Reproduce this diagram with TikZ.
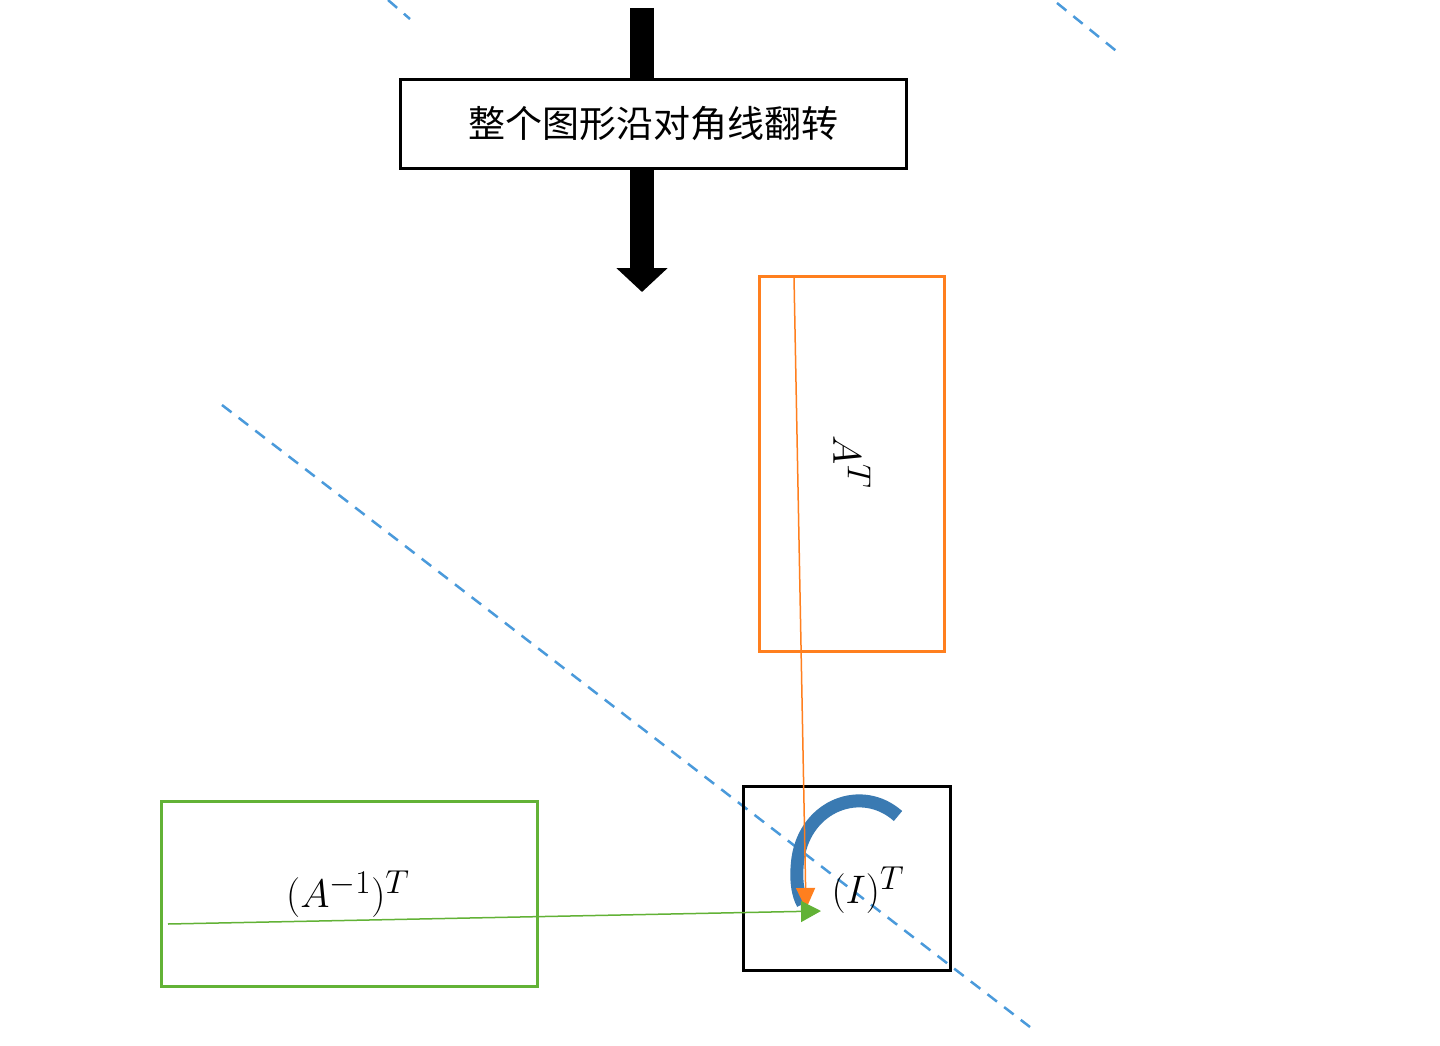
\documentclass[tikz,border=0pt]{standalone}
\usepackage{fontspec}
\newfontfamily\cjk{Noto Sans CJK SC}
\usetikzlibrary{arrows.meta}
\definecolor{orng}{HTML}{FF7F1E}
\definecolor{grn}{HTML}{62B236}
\definecolor{dblue}{HTML}{4A9ADB}
\definecolor{cblue}{HTML}{3A7AB2}
\newcommand{\lblmath}[1]{\scalebox{1.6}{\Huge$#1$}}
\tikzset{
  frame/.style={draw, line width=3pt, inner sep=0pt},
  diag/.style={dblue, line width=2.5pt, dash pattern=on 12pt off 9pt},
  mathlbl/.style={inner sep=0pt},
}
\begin{document}
\begin{tikzpicture}[x=1pt,y=-1pt]
\useasboundingbox[fill=white] (0,0) rectangle (1440,1046);
% dashed diagonals
\draw[diag] (388,0) -- (410,19);
\draw[diag] (1057,3) -- (1120,54);
\draw[diag] (222,405) -- (1030,1027);
% big arrow
\coordinate (ta) at (642,8);
\coordinate (tb) at (642,292);
\draw[line width=24pt, -{Triangle[width=50pt,length=24pt]}] (ta) -- (tb);
\node[frame, fill=white, minimum width=506pt, minimum height=88pt] (flip) at (653,124)
  {\cjk\fontsize{37}{40}\selectfont 整个图形沿对角线翻转};
% boxes
\node[frame, draw=orng, minimum width=185pt, minimum height=375pt] (at) at (851.5,463.5) {};
\node[mathlbl, rotate=-90] (atl) at (852,462) {\lblmath{A^T}};
\node[frame, draw=grn, minimum width=376pt, minimum height=185pt] (ainv) at (349,893.5) {};
\node[mathlbl] (ainvl) at (348,894) {\lblmath{(A^{-1})^T}};
\node[frame, minimum width=207pt, minimum height=184pt] (ident) at (846.5,878) {};
\node[mathlbl] (identl) at (868,890) {\lblmath{(I)^T}};
% curved arrow
\draw[cblue, line width=13pt] (898,816) .. controls (862,784) and (806,805) .. (798,858)
  .. controls (795,880) and (798,895) .. (803,904);
% connectors
\coordinate (os) at (794,277);
\coordinate (oe) at (806,909);
\draw[orng, line width=1.5pt, -{Triangle[width=19pt,length=21pt]}] (os) -- (oe);
\coordinate (gs) at (168,924);
\coordinate (ge) at (821,911);
\draw[grn, line width=1.5pt, -{Triangle[width=21pt,length=20pt]}] (gs) -- (ge);
\end{tikzpicture}
\end{document}
